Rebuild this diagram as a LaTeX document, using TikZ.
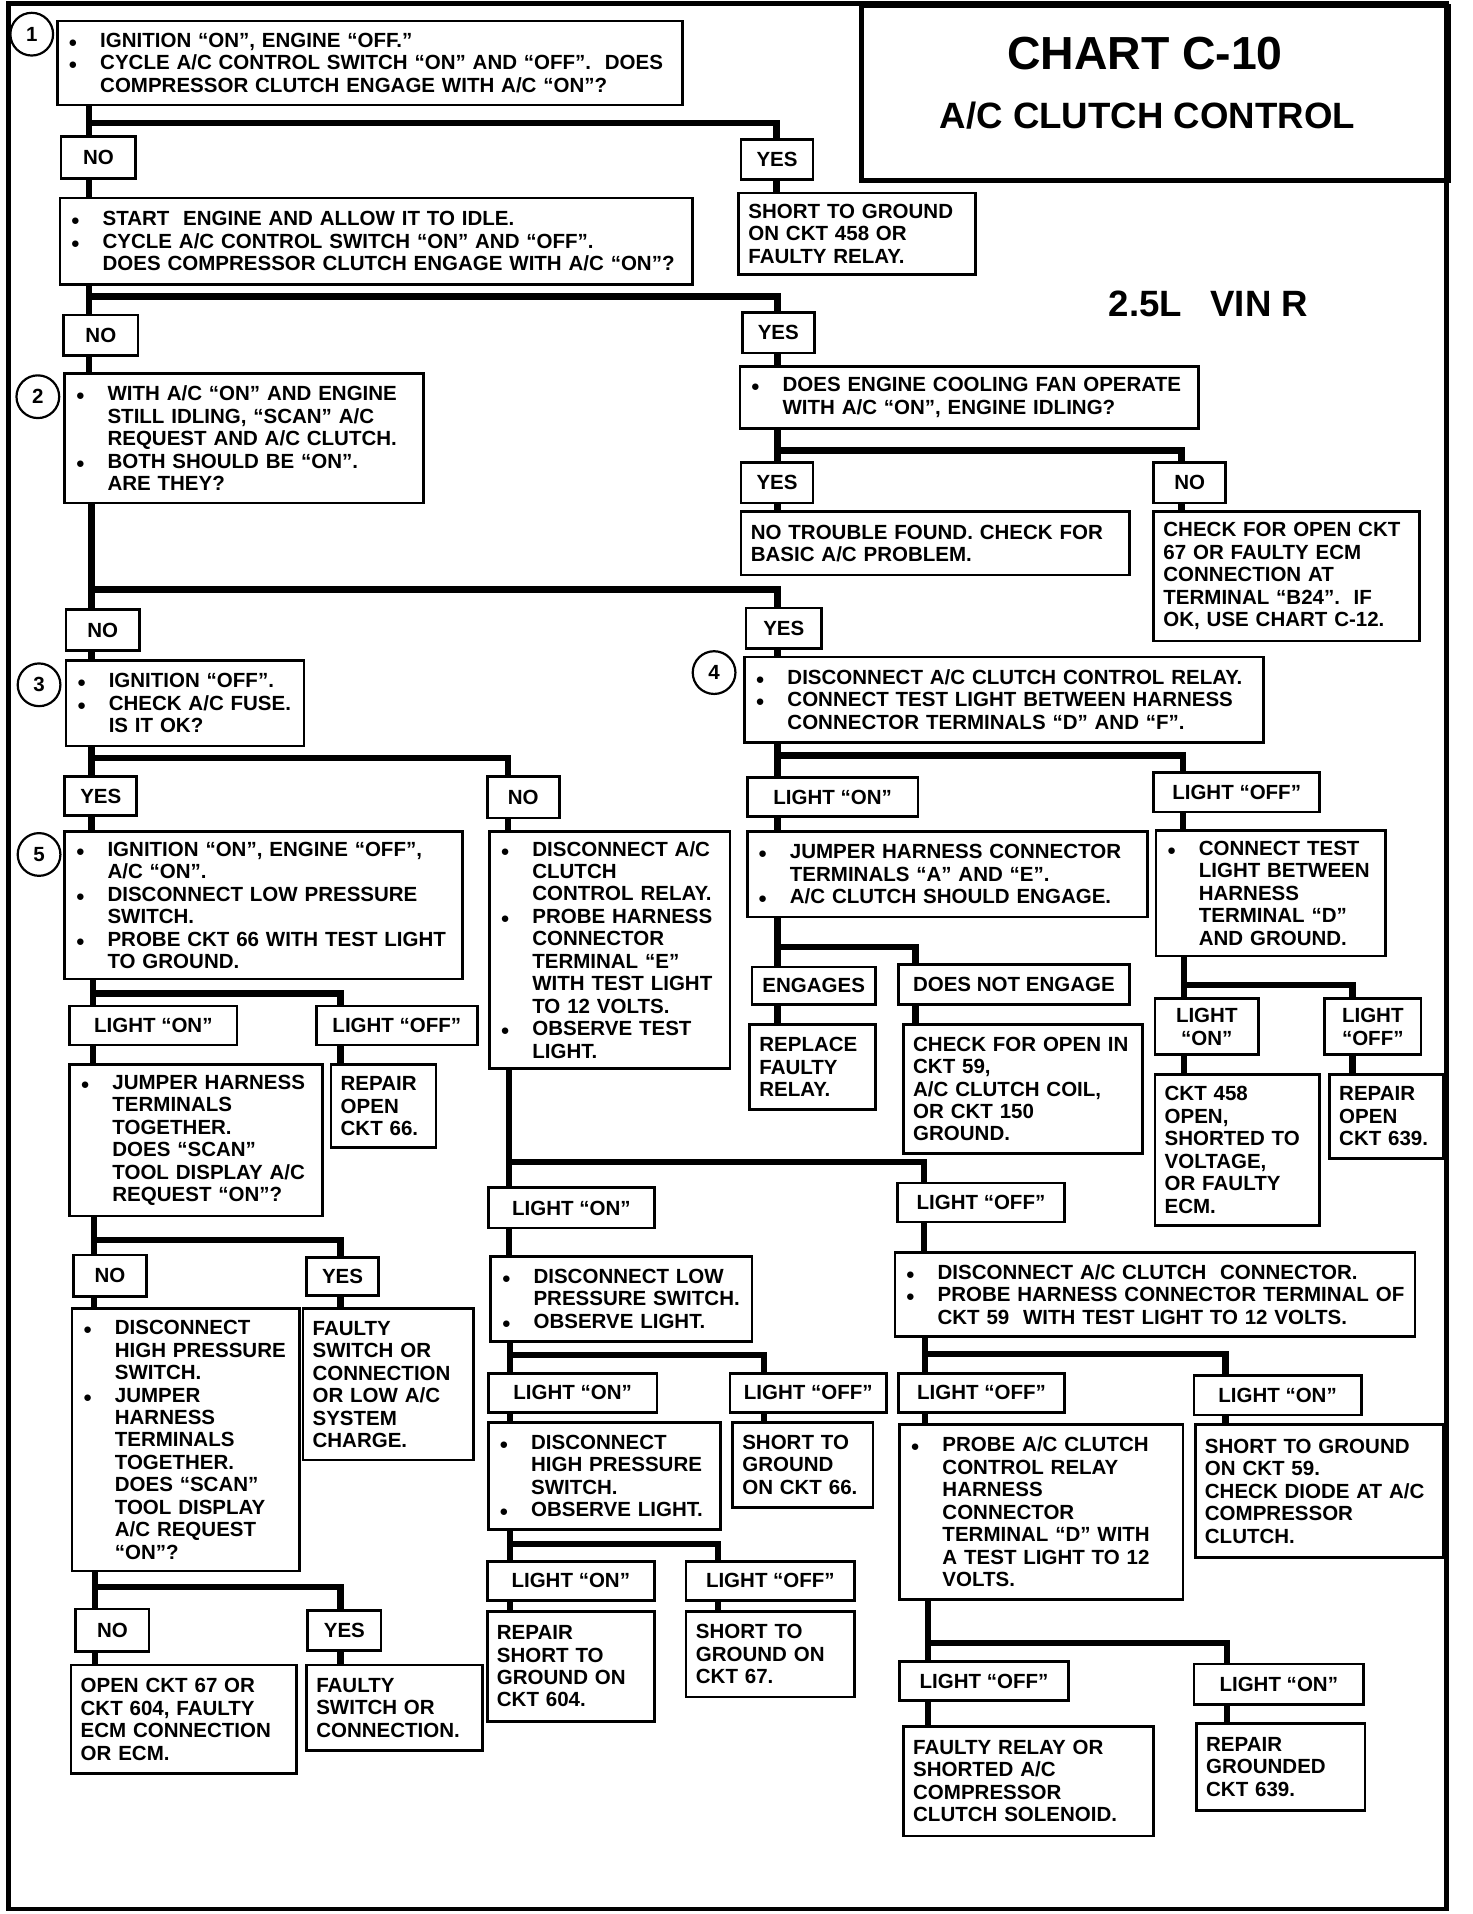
\documentclass[tikz,border=0pt]{standalone}
\usepackage{fontspec}
\setmainfont{Liberation Sans}
\newcommand\chartfont{\fontsize{8.4}{9.2}\selectfont\bfseries}
\newcommand\dotitem{\makebox[13.5pt][l]{\hspace{0.5pt}{\fontsize{6.2}{0}\selectfont ●}}}
\newcommand\skipitem{\hspace*{13.5pt}}
\tikzset{
  box/.style={draw, line width=1.1pt, anchor=north west, inner xsep=4pt, inner ysep=0pt, align=left, font=\chartfont},
  tag/.style={draw, line width=1.1pt, anchor=north west, inner sep=0pt, align=center, font=\chartfont},
  link/.style={line width=2.6pt},
  stepno/.style={draw, circle, line width=0.9pt, minimum size=17.5pt, inner sep=0pt, font=\chartfont},
  frame/.style={line width=1.8pt}
}
\begin{document}
\begin{tikzpicture}[x=0.5pt,y=-0.5pt]
\useasboundingbox (0,0) rectangle (1206,1568);
\draw[frame] (7,3) rectangle (1185,1564);

\node[draw, frame, anchor=north west, minimum width=240.5pt, minimum height=71.5pt, inner sep=0pt] (titlebox) at (704,3) {};
\node[font=\fontsize{19}{22}\selectfont\bfseries] (chart) at (938,44) {CHART C-10};
\node[font=\fontsize{15}{18}\selectfont\bfseries] (subject) at (940,95) {A/C CLUTCH CONTROL};
\node[font=\fontsize{15}{18}\selectfont\bfseries] (engine) at (990,249) {2.5L\enspace\ VIN R};

% questions and results
\node[box, text width=248pt, minimum height=34.5pt] (q1) at (46,16) {\dotitem IGNITION “ON”, ENGINE “OFF.”\\ \dotitem CYCLE A/C CONTROL SWITCH “ON” AND “OFF”.\ \ DOES\\ \skipitem COMPRESSOR CLUTCH ENGAGE WITH A/C “ON”?};
\node[box, text width=89pt, minimum height=33.5pt] (rA) at (604,157) {SHORT TO GROUND\\ ON CKT 458 OR\\ FAULTY RELAY.};
\node[box, text width=251pt, minimum height=35.5pt] (q2) at (48,161) {\dotitem START\ \ ENGINE AND ALLOW IT TO IDLE.\\ \dotitem CYCLE A/C CONTROL SWITCH “ON” AND “OFF”.\\ \skipitem DOES COMPRESSOR CLUTCH ENGAGE WITH A/C “ON”?};
\node[box, text width=139pt, minimum height=53pt] (q3) at (52,305) {\dotitem WITH A/C “ON” AND ENGINE\\ \skipitem STILL IDLING, “SCAN” A/C\\ \skipitem REQUEST AND A/C CLUTCH.\\ \dotitem BOTH SHOULD BE “ON”.\\ \skipitem ARE THEY?};
\node[box, text width=180pt, minimum height=25.5pt] (fan) at (605,299) {\dotitem DOES ENGINE COOLING FAN OPERATE\\ \skipitem WITH A/C “ON”, ENGINE IDLING?};
\node[box, text width=151pt, minimum height=26pt] (ntf) at (606,418) {NO TROUBLE FOUND. CHECK FOR\\ BASIC A/C PROBLEM.};
\node[box, text width=101pt, minimum height=53pt] (cko) at (944,418) {CHECK FOR OPEN CKT\\ 67 OR FAULTY ECM\\ CONNECTION AT\\ TERMINAL “B24”.\ \ IF\\ OK, USE CHART C-12.};
\node[box, text width=89.5pt, minimum height=35pt] (q4) at (53,540) {\dotitem IGNITION “OFF”.\\ \dotitem CHECK A/C FUSE.\\ \skipitem IS IT OK?};
\node[box, text width=204.5pt, minimum height=35pt] (relay) at (609,537) {\dotitem DISCONNECT A/C CLUTCH CONTROL RELAY.\\ \dotitem CONNECT TEST LIGHT BETWEEN HARNESS\\ \skipitem CONNECTOR TERMINALS “D” AND “F”.};
\node[box, text width=155pt, minimum height=60.5pt] (q5) at (52,680) {\dotitem IGNITION “ON”, ENGINE “OFF”,\\ \skipitem A/C “ON”.\\ \dotitem DISCONNECT LOW PRESSURE\\ \skipitem SWITCH.\\ \dotitem PROBE CKT 66 WITH TEST LIGHT\\ \skipitem TO GROUND.};
\node[box, text width=90.5pt, minimum height=97pt] (nob) at (400,680) {\dotitem DISCONNECT A/C\\ \skipitem CLUTCH\\ \skipitem CONTROL RELAY.\\ \dotitem PROBE HARNESS\\ \skipitem CONNECTOR\\ \skipitem TERMINAL “E”\\ \skipitem WITH TEST LIGHT\\ \skipitem TO 12 VOLTS.\\ \dotitem OBSERVE TEST\\ \skipitem LIGHT.};
\node[box, text width=156pt, minimum height=35pt] (jmp) at (611,680) {\dotitem JUMPER HARNESS CONNECTOR\\ \skipitem TERMINALS “A” AND “E”.\\ \dotitem A/C CLUTCH SHOULD ENGAGE.};
\node[box, text width=86pt, minimum height=51.5pt] (ctl) at (946,679) {\dotitem CONNECT TEST\\ \skipitem LIGHT BETWEEN\\ \skipitem HARNESS\\ \skipitem TERMINAL “D”\\ \skipitem AND GROUND.};
\node[box, text width=43.5pt, minimum height=35pt] (rep) at (613,838) {REPLACE\\ FAULTY\\ RELAY.};
\node[box, text width=90pt, minimum height=53pt] (chk) at (739,838) {CHECK FOR OPEN IN\\ CKT 59,\\ A/C CLUTCH COIL,\\ OR CKT 150\\ GROUND.};
\node[box, text width=59.5pt, minimum height=62pt] (c458) at (945,879) {CKT 458\\ OPEN,\\ SHORTED TO\\ VOLTAGE,\\ OR FAULTY\\ ECM.};
\node[box, text width=38.5pt, minimum height=34.5pt] (r639) at (1088,879) {REPAIR\\ OPEN\\ CKT 639.};
\node[box, text width=95.5pt, minimum height=62pt] (jht) at (56,871) {\dotitem JUMPER HARNESS\\ \skipitem TERMINALS\\ \skipitem TOGETHER.\\ \skipitem DOES “SCAN”\\ \skipitem TOOL DISPLAY A/C\\ \skipitem REQUEST “ON”?};
\node[box, text width=35pt, minimum height=34pt] (r66) at (270,871) {REPAIR\\ OPEN\\ CKT 66.};
\node[box, text width=99pt, minimum height=35pt] (dlo) at (401,1028) {\dotitem DISCONNECT LOW\\ \skipitem PRESSURE SWITCH.\\ \dotitem OBSERVE LIGHT.};
\node[box, text width=205pt, minimum height=34.5pt] (dcc) at (732,1025) {\dotitem DISCONNECT A/C CLUTCH\ \ CONNECTOR.\\ \dotitem PROBE HARNESS CONNECTOR TERMINAL OF\\ \skipitem CKT 59\ \ WITH TEST LIGHT TO 12 VOLTS.};
\node[box, text width=85pt, minimum height=107.5pt] (dhi) at (58,1071) {\dotitem DISCONNECT\\ \skipitem HIGH PRESSURE\\ \skipitem SWITCH.\\ \dotitem JUMPER\\ \skipitem HARNESS\\ \skipitem TERMINALS\\ \skipitem TOGETHER.\\ \skipitem DOES “SCAN”\\ \skipitem TOOL DISPLAY\\ \skipitem A/C REQUEST\\ \skipitem “ON”?};
\node[box, text width=62pt, minimum height=62pt] (fsw) at (247,1071) {FAULTY\\ SWITCH OR\\ CONNECTION\\ OR LOW A/C\\ SYSTEM\\ CHARGE.};
\node[box, text width=87pt, minimum height=44pt] (dh2) at (399,1164) {\dotitem DISCONNECT\\ \skipitem HIGH PRESSURE\\ \skipitem SWITCH.\\ \dotitem OBSERVE LIGHT.};
\node[box, text width=49.5pt, minimum height=35pt] (sg66) at (599,1164) {SHORT TO\\ GROUND\\ ON CKT 66.};
\node[box, text width=108pt, minimum height=71.5pt] (probe) at (736,1166) {\dotitem PROBE A/C CLUTCH\\ \skipitem CONTROL RELAY\\ \skipitem HARNESS\\ \skipitem CONNECTOR\\ \skipitem TERMINAL “D” WITH\\ \skipitem A TEST LIGHT TO 12\\ \skipitem VOLTS.};
\node[box, text width=93.5pt, minimum height=54.5pt] (sg59) at (978,1166) {SHORT TO GROUND\\ ON CKT 59.\\ CHECK DIODE AT A/C\\ COMPRESSOR\\ CLUTCH.};
\node[box, text width=84.5pt, minimum height=44.5pt] (o67) at (57,1363) {OPEN CKT 67 OR\\ CKT 604, FAULTY\\ ECM CONNECTION\\ OR ECM.};
\node[box, text width=64pt, minimum height=35pt] (fsc) at (250,1363) {FAULTY\\ SWITCH OR\\ CONNECTION.};
\node[box, text width=60.5pt, minimum height=45pt] (rs604) at (398,1319) {REPAIR\\ SHORT TO\\ GROUND ON\\ CKT 604.};
\node[box, text width=61pt, minimum height=35pt] (sg67) at (561,1319) {SHORT TO\\ GROUND ON\\ CKT 67.};
\node[box, text width=94.5pt, minimum height=45pt] (frs) at (739,1413) {FAULTY RELAY OR\\ SHORTED A/C\\ COMPRESSOR\\ CLUTCH SOLENOID.};
\node[box, text width=61pt, minimum height=35.5pt] (rg639) at (979,1411) {REPAIR\\ GROUNDED\\ CKT 639.};

% step numbers
\node[stepno] (num1) at (26,28) {1};
\node[stepno] (num2) at (31,325) {2};
\node[stepno] (num3) at (32,561) {3};
\node[stepno] (num4) at (585,551) {4};
\node[stepno] (num5) at (32,700) {5};

% answers
\node[tag, minimum width=30.5pt, minimum height=17pt] (noA) at (49,111) {NO};
\node[tag, minimum width=29.5pt, minimum height=16.5pt] (yesA) at (606,113) {YES};
\node[tag, minimum width=30.5pt, minimum height=16.5pt] (noB) at (51,257) {NO};
\node[tag, minimum width=29.5pt, minimum height=16.5pt] (yesB) at (607,255) {YES};
\node[tag, minimum width=29.5pt, minimum height=16.5pt] (yesF) at (606,378) {YES};
\node[tag, minimum width=29.5pt, minimum height=16.5pt] (noF) at (944,378) {NO};
\node[tag, minimum width=30pt, minimum height=17pt] (noC) at (53,498) {NO};
\node[tag, minimum width=31pt, minimum height=16.5pt] (yesC) at (610,497) {YES};
\node[tag, minimum width=29.5pt, minimum height=16pt] (yesD) at (52,635) {YES};
\node[tag, minimum width=29.5pt, minimum height=17pt] (noD) at (398,635) {NO};
\node[tag, minimum width=70pt, minimum height=16pt] (lonR) at (611,636) {LIGHT “ON”};
\node[tag, minimum width=68pt, minimum height=16pt] (loffR) at (944,632) {LIGHT “OFF”};
\node[tag, minimum width=50.5pt, minimum height=15.5pt] (eng) at (615,791) {ENGAGES};
\node[tag, minimum width=94.5pt, minimum height=16.5pt] (dne) at (735,789) {DOES NOT ENGAGE};
\node[tag, minimum width=42.5pt, minimum height=23pt] (lonT) at (945,817) {LIGHT\\ “ON”};
\node[tag, minimum width=39.5pt, minimum height=23pt] (loffT) at (1084,817) {LIGHT\\ “OFF”};
\node[tag, minimum width=68.5pt, minimum height=16pt] (lonE) at (56,823) {LIGHT “ON”};
\node[tag, minimum width=66pt, minimum height=16pt] (loffE) at (258,823) {LIGHT “OFF”};
\node[tag, minimum width=68pt, minimum height=16.5pt] (lonN) at (399,972) {LIGHT “ON”};
\node[tag, minimum width=68.5pt, minimum height=16pt] (loffN) at (734,968) {LIGHT “OFF”};
\node[tag, minimum width=30pt, minimum height=17pt] (noH) at (59,1027) {NO};
\node[tag, minimum width=29.5pt, minimum height=15.5pt] (yesH) at (250,1029) {YES};
\node[tag, minimum width=69pt, minimum height=16pt] (lonL) at (399,1124) {LIGHT “ON”};
\node[tag, minimum width=64pt, minimum height=16pt] (loffL) at (597,1124) {LIGHT “OFF”};
\node[tag, minimum width=68pt, minimum height=16pt] (loffP) at (735,1124) {LIGHT “OFF”};
\node[tag, minimum width=68.5pt, minimum height=16pt] (lonP) at (977,1126) {LIGHT “ON”};
\node[tag, minimum width=30pt, minimum height=17.5pt] (noI) at (61,1317) {NO};
\node[tag, minimum width=30pt, minimum height=16.5pt] (yesI) at (251,1318) {YES};
\node[tag, minimum width=68.5pt, minimum height=16pt] (lonM) at (398,1278) {LIGHT “ON”};
\node[tag, minimum width=69pt, minimum height=16pt] (loffM) at (561,1278) {LIGHT “OFF”};
\node[tag, minimum width=69pt, minimum height=16pt] (loffQ) at (736,1360) {LIGHT “OFF”};
\node[tag, minimum width=69.5pt, minimum height=16.5pt] (lonQ) at (977,1362) {LIGHT “ON”};

% branch points
\coordinate (sA) at (73,101);   \coordinate (dA) at (636,101);
\coordinate (sB) at (73,243);   \coordinate (dB) at (637,243);
\coordinate (sF) at (637,369);  \coordinate (dF) at (968,369);
\coordinate (sC) at (75,483);   \coordinate (dC) at (637,483);
\coordinate (sD) at (75,621);   \coordinate (dD) at (416,621);
\coordinate (sR) at (637,619);  \coordinate (dR) at (969,619);
\coordinate (sJ) at (637,776);  \coordinate (dJ) at (750,776);
\coordinate (sT) at (970,807);  \coordinate (dT) at (1108,807);
\coordinate (sE) at (76,814);   \coordinate (dE) at (279,814);
\coordinate (sN) at (417,952);  \coordinate (dN) at (757,952);
\coordinate (sH) at (77,1016);  \coordinate (dH) at (279,1016);
\coordinate (sL) at (418,1110); \coordinate (dL) at (626,1110);
\coordinate (sP) at (758,1109); \coordinate (dP) at (1004,1109);
\coordinate (sI) at (78,1300);  \coordinate (dI) at (279,1300);
\coordinate (sM) at (418,1265); \coordinate (dM) at (588,1265);
\coordinate (sQ) at (760,1346); \coordinate (dQ) at (1005,1346);

% connectors
\draw[link] (q1.south -| sA) -- (sA |- noA.north) (sA) -- (dA) -- (dA |- yesA.north)
  (noA.south -| sA) -- (sA |- q2.north) (yesA.south -| dA) -- (dA |- rA.north);
\draw[link] (q2.south -| sB) -- (sB |- noB.north) (sB) -- (dB) -- (dB |- yesB.north)
  (noB.south -| sB) -- (sB |- q3.north) (yesB.south -| dB) -- (dB |- fan.north);
\draw[link] (fan.south -| sF) -- (sF |- yesF.north) (sF) -- (dF) -- (dF |- noF.north)
  (yesF.south -| sF) -- (sF |- ntf.north) (noF.south -| dF) -- (dF |- cko.north);
\draw[link] (q3.south -| sC) -- (sC |- noC.north) (sC) -- (dC) -- (dC |- yesC.north)
  (noC.south -| sC) -- (sC |- q4.north) (yesC.south -| dC) -- (dC |- relay.north);
\draw[link] (q4.south -| sD) -- (sD |- yesD.north) (sD) -- (dD) -- (dD |- noD.north)
  (yesD.south -| sD) -- (sD |- q5.north) (noD.south -| dD) -- (dD |- nob.north);
\draw[link] (relay.south -| sR) -- (sR |- lonR.north) (sR) -- (dR) -- (dR |- loffR.north)
  (lonR.south -| sR) -- (sR |- jmp.north) (loffR.south -| dR) -- (dR |- ctl.north);
\draw[link] (jmp.south -| sJ) -- (sJ |- eng.north) (sJ) -- (dJ) -- (dJ |- dne.north)
  (eng.south -| sJ) -- (sJ |- rep.north) (dne.south -| dJ) -- (dJ |- chk.north);
\draw[link] (ctl.south -| sT) -- (sT |- lonT.north) (sT) -- (dT) -- (dT |- loffT.north)
  (lonT.south -| sT) -- (sT |- c458.north) (loffT.south -| dT) -- (dT |- r639.north);
\draw[link] (q5.south -| sE) -- (sE |- lonE.north) (sE) -- (dE) -- (dE |- loffE.north)
  (lonE.south -| sE) -- (sE |- jht.north) (loffE.south -| dE) -- (dE |- r66.north);
\draw[link] (nob.south -| sN) -- (sN |- lonN.north) (sN) -- (dN) -- (dN |- loffN.north)
  (lonN.south -| sN) -- (sN |- dlo.north) (loffN.south -| dN) -- (dN |- dcc.north);
\draw[link] (jht.south -| sH) -- (sH |- noH.north) (sH) -- (dH) -- (dH |- yesH.north)
  (noH.south -| sH) -- (sH |- dhi.north) (yesH.south -| dH) -- (dH |- fsw.north);
\draw[link] (dlo.south -| sL) -- (sL |- lonL.north) (sL) -- (dL) -- (dL |- loffL.north)
  (lonL.south -| sL) -- (sL |- dh2.north) (loffL.south -| dL) -- (dL |- sg66.north);
\draw[link] (dcc.south -| sP) -- (sP |- loffP.north) (sP) -- (dP) -- (dP |- lonP.north)
  (loffP.south -| sP) -- (sP |- probe.north) (lonP.south -| dP) -- (dP |- sg59.north);
\draw[link] (dhi.south -| sI) -- (sI |- noI.north) (sI) -- (dI) -- (dI |- yesI.north)
  (noI.south -| sI) -- (sI |- o67.north) (yesI.south -| dI) -- (dI |- fsc.north);
\draw[link] (dh2.south -| sM) -- (sM |- lonM.north) (sM) -- (dM) -- (dM |- loffM.north)
  (lonM.south -| sM) -- (sM |- rs604.north) (loffM.south -| dM) -- (dM |- sg67.north);
\draw[link] (probe.south -| sQ) -- (sQ |- loffQ.north) (sQ) -- (dQ) -- (dQ |- lonQ.north)
  (loffQ.south -| sQ) -- (sQ |- frs.north) (lonQ.south -| dQ) -- (dQ |- rg639.north);
\end{tikzpicture}
\end{document}
